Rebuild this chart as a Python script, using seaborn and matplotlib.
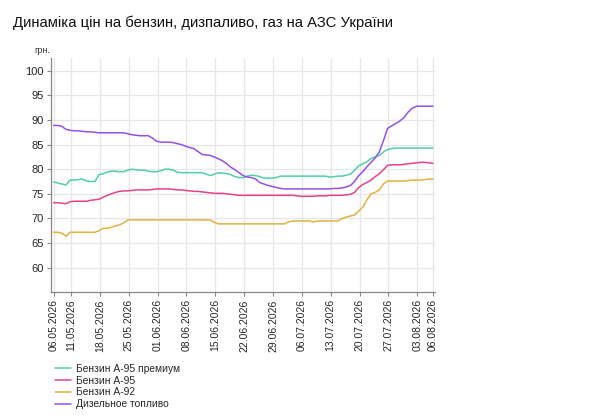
import pandas as pd
import numpy as np
import seaborn as sns
import matplotlib.pyplot as plt
import matplotlib.dates as mdates

# daily prices, UAH per litre, 06.05.2026 .. 06.08.2026
start_date = '2026-05-06 19:00'

a95_premium = [77.4, 77.2, 77.0, 76.8, 77.8, 77.8, 77.9, 78.0, 77.6, 77.5,
               77.5, 78.9, 79.1, 79.4, 79.6, 79.6, 79.5, 79.5, 79.8, 80.0,
               79.9, 79.8, 79.8, 79.6, 79.5, 79.5, 79.7, 80.0, 80.0, 79.8,
               79.4, 79.3, 79.3, 79.3, 79.3, 79.3, 79.3, 79.0, 78.7, 79.0,
               79.3, 79.2, 79.1, 78.9, 78.5, 78.3, 78.3, 78.6, 78.8, 78.7,
               78.5, 78.2, 78.2, 78.2, 78.3, 78.6, 78.6, 78.6, 78.6, 78.6,
               78.6, 78.6, 78.6, 78.6, 78.6, 78.6, 78.6, 78.4, 78.5, 78.6,
               78.6, 78.8, 79.0, 79.8, 80.7, 81.1, 81.5, 82.2, 82.5, 82.8,
               83.5, 84.0, 84.2, 84.3, 84.3, 84.3, 84.3, 84.3, 84.3, 84.3,
               84.3, 84.3, 84.3]

a95 = [73.2, 73.2, 73.1, 73.0, 73.4, 73.5, 73.5, 73.5, 73.5, 73.7,
       73.8, 73.9, 74.3, 74.7, 75.0, 75.3, 75.5, 75.6, 75.6, 75.7,
       75.8, 75.8, 75.8, 75.8, 75.9, 76.0, 76.0, 76.0, 76.0, 75.9,
       75.8, 75.8, 75.7, 75.6, 75.5, 75.5, 75.4, 75.3, 75.2, 75.1,
       75.1, 75.1, 75.0, 74.9, 74.8, 74.7, 74.7, 74.7, 74.7, 74.7,
       74.7, 74.7, 74.7, 74.7, 74.7, 74.7, 74.7, 74.7, 74.7, 74.6,
       74.5, 74.5, 74.5, 74.5, 74.6, 74.6, 74.6, 74.7, 74.7, 74.7,
       74.7, 74.8, 74.9, 75.3, 76.3, 76.9, 77.3, 77.8, 78.5, 79.1,
       79.9, 80.8, 80.9, 80.9, 80.9, 81.0, 81.1, 81.2, 81.3, 81.4,
       81.4, 81.3, 81.2]

a92 = [67.2, 67.2, 67.0, 66.4, 67.2, 67.2, 67.2, 67.2, 67.2, 67.2,
       67.2, 67.5, 68.0, 68.0, 68.2, 68.5, 68.7, 69.1, 69.7, 69.7,
       69.7, 69.7, 69.7, 69.7, 69.7, 69.7, 69.7, 69.7, 69.7, 69.7,
       69.7, 69.7, 69.7, 69.7, 69.7, 69.7, 69.7, 69.7, 69.7, 69.2,
       68.9, 68.9, 68.9, 68.9, 68.9, 68.9, 68.9, 68.9, 68.9, 68.9,
       68.9, 68.9, 68.9, 68.9, 68.9, 68.9, 68.9, 69.3, 69.5, 69.5,
       69.5, 69.5, 69.5, 69.3, 69.5, 69.5, 69.5, 69.5, 69.5, 69.5,
       70.0, 70.3, 70.5, 70.7, 71.5, 72.3, 73.8, 75.0, 75.3, 75.8,
       77.0, 77.6, 77.6, 77.6, 77.6, 77.6, 77.7, 77.8, 77.8, 77.8,
       77.9, 78.0, 78.0]

diesel = [88.9, 88.9, 88.7, 88.1, 87.9, 87.8, 87.8, 87.7, 87.6, 87.6,
          87.5, 87.4, 87.4, 87.4, 87.4, 87.4, 87.4, 87.4, 87.2, 87.0,
          86.9, 86.8, 86.8, 86.8, 86.3, 85.7, 85.5, 85.5, 85.5, 85.4,
          85.2, 85.0, 84.7, 84.4, 84.2, 83.6, 83.0, 82.9, 82.8, 82.5,
          82.1, 81.7, 81.1, 80.4, 79.9, 79.3, 78.7, 78.4, 78.3, 78.0,
          77.3, 77.0, 76.7, 76.5, 76.3, 76.1, 76.0, 76.0, 76.0, 76.0,
          76.0, 76.0, 76.0, 76.0, 76.0, 76.0, 76.0, 76.0, 76.1, 76.1,
          76.2, 76.4, 76.7, 77.5, 78.7, 79.5, 80.5, 81.4, 82.3, 83.5,
          85.8, 88.3, 88.8, 89.3, 89.8, 90.5, 91.6, 92.4, 92.8, 92.8,
          92.8, 92.8, 92.8]

series_names = ['Бензин А-95 премиум', 'Бензин А-95', 'Бензин А-92', 'Дизельное топливо']
colors = ['#4fcfac', '#e5418e', '#e3b23f', '#9550e6']

dates = pd.date_range(start_date, periods=len(a95_premium), freq='D')
df = pd.DataFrame({'date': dates,
                   series_names[0]: a95_premium,
                   series_names[1]: a95,
                   series_names[2]: a92,
                   series_names[3]: diesel})
long_df = df.melt(id_vars='date', var_name='fuel', value_name='price')

sns.set_style('white')
plt.rcParams['font.family'] = ['Liberation Sans', 'DejaVu Sans']

fig = plt.figure(figsize=(6, 4.17), dpi=100)
ax = fig.add_axes([0.0845, 0.299, 0.641, 0.562])

sns.lineplot(data=long_df, x='date', y='price', hue='fuel',
             hue_order=series_names, palette=dict(zip(series_names, colors)),
             linewidth=1.1, legend=False, ax=ax)

# axes ranges and ticks
ax.set_xlim(pd.Timestamp('2026-05-06 02:00'), pd.Timestamp('2026-08-07 09:00'))
ax.set_ylim(55, 102.6)
ax.set_yticks(np.arange(60, 101, 5))

week_ticks = list(pd.date_range('2026-05-11', '2026-08-03', freq='7D'))
ax.set_xticks([dates[0]] + week_ticks + [dates[-1]])
ax.xaxis.set_major_formatter(mdates.DateFormatter('%d.%m.%Y'))
ax.tick_params(axis='x', rotation=90, labelsize=7.5, length=3, color='#888888', pad=2)
ax.tick_params(axis='y', labelsize=8, length=3, color='#888888', pad=2)
ax.tick_params(left=True, bottom=True)

ax.grid(True, color='#e6e6e6', linewidth=0.9)
for side in ['top', 'right']:
    ax.spines[side].set_visible(False)
for side in ['left', 'bottom']:
    ax.spines[side].set_color('#888888')
    ax.spines[side].set_linewidth(0.9)
ax.set_xlabel('')
ax.set_ylabel('')

fig.text(0.058, 0.872, 'грн.', fontsize=6.5, color='#333333')
fig.text(0.022, 0.935, 'Динаміка цін на бензин, дизпаливо, газ на АЗС України',
         fontsize=10.7, color='#111111')

handles = [plt.Line2D([], [], color=c, linewidth=1.1) for c in colors]
fig.legend(handles, series_names, loc='upper left',
           bbox_to_anchor=(0.092, 1 - 364 / 417), frameon=False,
           fontsize=7.4, handlelength=1.5, handletextpad=0.5,
           labelspacing=0.17, borderaxespad=0, borderpad=0)

fig.savefig('out.png', dpi=100)
